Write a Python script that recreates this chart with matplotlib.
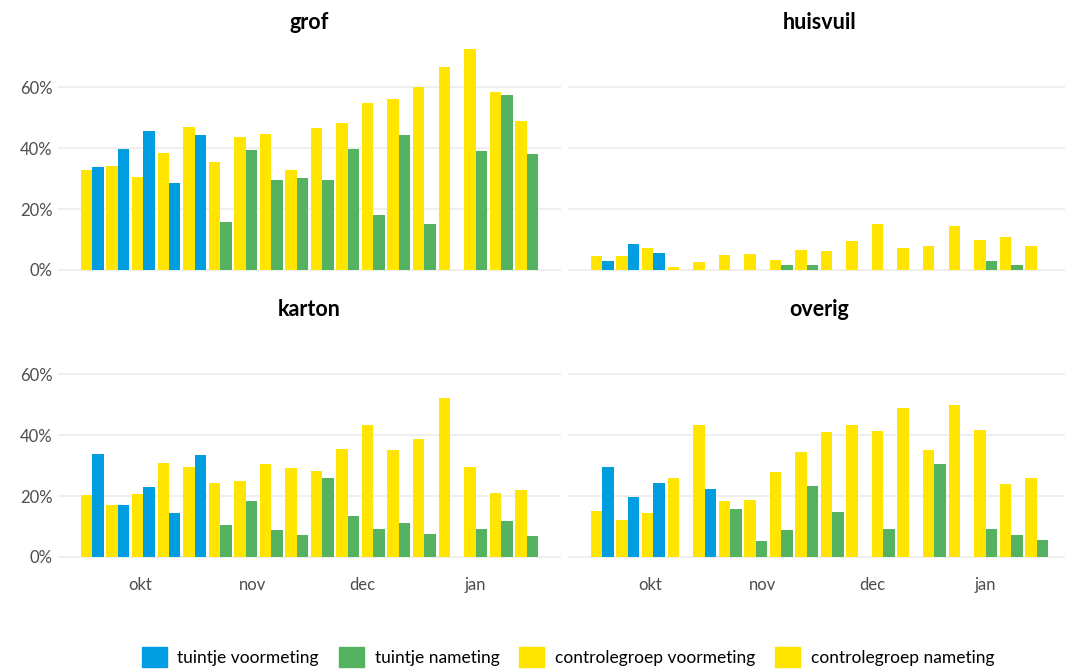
import numpy as np
import pandas as pd
import matplotlib
matplotlib.use('Agg')  # geen scherm nodig
import matplotlib.pyplot as plt
import matplotlib.dates as mdates
from matplotlib.patches import Patch

plt.rcParams['font.family'] = ['Lato', 'DejaVu Sans']

# Weken (maandag) van de meting
weken = pd.date_range('2017-09-18', periods=18, freq='7D')
n_voor = 5  # de eerste 5 weken zijn de voormeting

nan = np.nan
# percentages per fractie: controlegroep en tuintje
grof_controle = [32.9, 34.2, 30.6, 38.5, 47.1, 35.6, 43.8, 44.8, 32.9, 46.7, 48.4, 55.0, 56.3, 60.2, 66.8, 72.8, 58.6, 49.1]
grof_tuintje = [33.9, 39.8, 45.8, 28.6, 44.4, 15.8, 39.5, 29.6, 30.2, 29.6, 39.8, 18.1, 44.4, 15.1, nan, 39.2, 57.6, 38.2]
huisvuil_controle = [4.6, 4.6, 7.3, 0.8, 2.6, 5.0, 5.3, 3.3, 6.6, 6.3, 9.6, 15.1, 7.3, 7.9, 14.5, 9.9, 10.9, 7.9]
huisvuil_tuintje = [3.0, 8.6, 5.6, nan, nan, nan, nan, 1.6, 1.6, nan, nan, nan, nan, nan, nan, 3.0, 1.5, nan]
karton_controle = [20.4, 17.1, 20.8, 30.9, 29.6, 24.4, 25.0, 30.6, 29.3, 28.3, 35.5, 43.4, 35.2, 38.8, 52.2, 29.6, 21.1, 22.1]
karton_tuintje = [33.9, 17.1, 23.1, 14.5, 33.5, 10.6, 18.5, 9.0, 7.3, 26.0, 13.5, 9.3, 11.2, 7.6, nan, 9.3, 11.9, 7.0]
overig_controle = [15.2, 12.2, 14.5, 26.0, 43.4, 18.5, 18.8, 28.0, 34.5, 41.1, 43.4, 41.4, 49.0, 35.2, 50.0, 41.7, 24.0, 26.0]
overig_tuintje = [29.6, 19.8, 24.4, nan, 22.4, 15.8, 5.3, 9.0, 23.4, 14.8, nan, 9.3, nan, 30.6, nan, 9.3, 7.3, 5.7]

fracties = ['grof', 'huisvuil', 'karton', 'overig']
controle = [grof_controle, huisvuil_controle, karton_controle, overig_controle]
tuintje = [grof_tuintje, huisvuil_tuintje, karton_tuintje, overig_tuintje]

maanden = ['2017-10-01', '2017-11-01', '2017-12-01', '2018-01-01']
maand_labels = ['okt', 'nov', 'dec', 'jan']

kleuren = {
    'tuintje voormeting': '#009DE0',
    'tuintje nameting': '#55B260',
    'controlegroep voormeting': '#FFE500',
    'controlegroep nameting': '#FFE500',
}

W, H = 1065, 671
fig = plt.figure(figsize=(W / 100, H / 100), dpi=100)

# Paneelposities in pixels: (links, boven, breedte, hoogte)
panelen = [(58, 37.5, 503, 243.5), (568, 37.5, 503, 243.5),
           (58, 324.5, 503, 243.5), (568, 324.5, 503, 243.5)]

x = mdates.date2num(weken)
bw = 7 * 0.9 / 2  # breedte van een staaf in dagen
lo, hi = x[0] - bw, x[-1] + bw
pad = 0.05 * (hi - lo)

for i, (naam, ctrl, tuin) in enumerate(zip(fracties, controle, tuintje)):
    l, t, w, h = panelen[i]
    ax = fig.add_axes([l / W, 1 - (t + h) / H, w / W, h / H])
    ctrl = np.array(ctrl)
    tuin = np.array(tuin)
    kl_tuin = [kleuren['tuintje voormeting'] if j < n_voor else kleuren['tuintje nameting']
               for j in range(len(x))]
    ax.bar(x - bw / 2, ctrl, width=bw, color='#FFE500', zorder=2)
    ok = ~np.isnan(tuin)
    ax.bar(x[ok] + bw / 2, tuin[ok], width=bw, color=np.array(kl_tuin)[ok], zorder=2)

    ax.set_xlim(lo - pad, hi + pad)
    ax.set_ylim(-3.64, 76.44)
    ax.set_yticks([0, 20, 40, 60])
    ax.grid(axis='y', color='#EBEBEB', linewidth=1.1, zorder=0)
    for s in ax.spines.values():
        s.set_visible(False)
    ax.tick_params(length=0, labelsize=12, labelcolor='#4D4D4D', pad=4)
    ax.set_xticks(mdates.date2num(pd.to_datetime(maanden)))
    if i >= 2:
        ax.set_xticklabels(maand_labels)
        ax.tick_params(axis='x', pad=6.5)
    else:
        ax.set_xticklabels([])
    if i % 2 == 0:
        ax.set_yticklabels([f'{v}%' for v in [0, 20, 40, 60]])
    else:
        ax.set_yticklabels([])
    fig.text((l + w / 2) / W, 1 - (t - 15) / H, naam, ha='center', va='center',
             fontsize=15.5, fontweight='bold', color='black')

handles = [Patch(color=c, label=k) for k, c in kleuren.items()]
fig.legend(handles=handles, loc='center', bbox_to_anchor=(568 / W, 1 - 657 / H),
           ncol=4, frameon=False, fontsize=12.5, handlelength=1.45, handleheight=1.45,
           handletextpad=0.6, columnspacing=1.15)

fig.savefig('out.png', dpi=100)
